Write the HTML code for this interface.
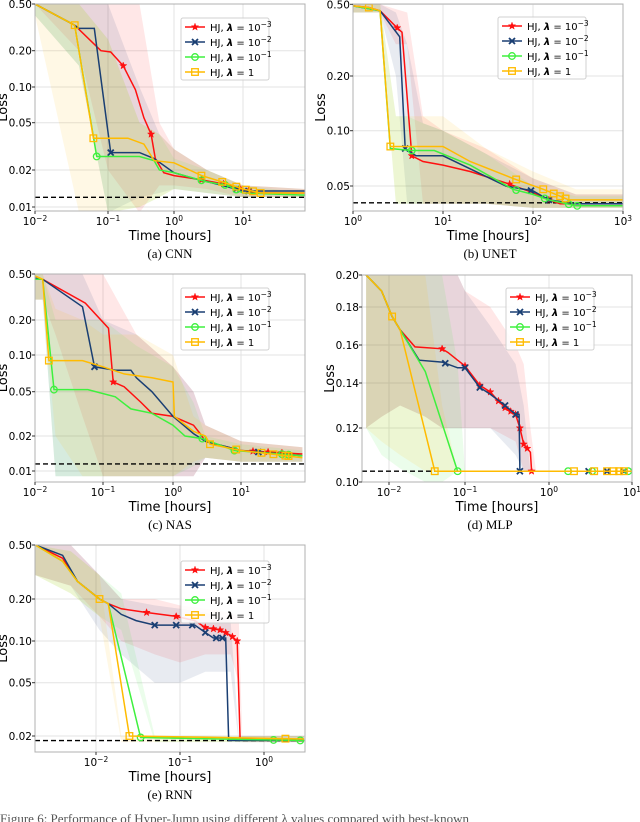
<!DOCTYPE html>
<html><head><meta charset="utf-8"><style>
body{margin:0;background:#fff}
svg{display:block}
</style></head><body>
<svg id="fig" width="640" height="822" viewBox="0 0 640 822" xmlns="http://www.w3.org/2000/svg" font-family="'DejaVu Sans','Liberation Sans',sans-serif"></svg>
<script>
// ---------- DATA ----------
const cnn_red=[[0.01,0.5],[0.035,0.33],[0.08,0.2],[0.11,0.195],[0.17,0.15],[0.26,0.095],[0.35,0.055],[0.45,0.04],[0.52,0.025],[0.7,0.019],[1,0.018],[2,0.017],[5,0.0155],[10,0.014],[15,0.013],[80,0.013]];
const cnn_blue=[[0.01,0.5],[0.035,0.33],[0.04,0.31],[0.065,0.31],[0.11,0.028],[0.3,0.028],[0.5,0.025],[1,0.019],[2,0.017],[5,0.015],[10,0.0135],[80,0.0135]];
const cnn_green=[[0.01,0.5],[0.035,0.33],[0.07,0.026],[0.3,0.026],[0.5,0.024],[0.6,0.02],[1,0.019],[3,0.016],[6,0.015],[10,0.013],[80,0.0125]];
const cnn_yellow=[[0.01,0.5],[0.035,0.33],[0.063,0.037],[0.2,0.037],[0.35,0.033],[0.5,0.024],[1,0.023],[2.5,0.018],[5,0.016],[10,0.014],[18,0.013],[80,0.013]];
const cnn_marks=[[0.17,0.45,2.5,5.2,9,12],[0.11,8,12],[0.07,2.5,5.5,8],[0.035,0.063,2.5,5,8,11,14,18]];
const cnn_bandT=[0.01,0.04,0.1,0.3,0.6,1,3,10,80];
const cnn_bandHi=[[0.5,0.5,0.5,0.5,0.05,0.03,0.02,0.015,0.014],[0.5,0.5,0.5,0.1,0.04,0.03,0.02,0.015,0.014],[0.5,0.5,0.25,0.05,0.04,0.025,0.02,0.015,0.013],[0.5,0.5,0.25,0.05,0.04,0.03,0.02,0.015,0.014]];
const cnn_bandLo=[[0.5,0.2,0.02,0.009,0.015,0.015,0.014,0.012,0.012],[0.4,0.15,0.009,0.012,0.013,0.014,0.013,0.012,0.012],[0.4,0.15,0.009,0.01,0.012,0.014,0.013,0.012,0.012],[0.4,0.009,0.009,0.01,0.012,0.014,0.013,0.012,0.012]];

const unet_red=[[1,0.49],[1.5,0.48],[2,0.46],[3.1,0.37],[3.5,0.35],[4.5,0.073],[6,0.068],[10,0.065],[20,0.06],[50,0.052],[100,0.046],[150,0.042],[200,0.04],[300,0.04],[1000,0.04]];
const unet_blue=[[1,0.49],[2,0.46],[3.3,0.33],[3.8,0.08],[5,0.073],[10,0.073],[20,0.062],[50,0.05],[100,0.047],[150,0.042],[300,0.04],[1000,0.04]];
const unet_green=[[1,0.49],[2,0.46],[2.6,0.08],[4.5,0.078],[8,0.078],[20,0.065],[60,0.048],[100,0.045],[150,0.042],[300,0.039],[1000,0.039]];
const unet_yellow=[[1,0.49],[1.5,0.48],[2,0.46],[2.6,0.082],[10,0.082],[20,0.068],[60,0.055],[130,0.048],[200,0.044],[250,0.042],[1000,0.042]];
const unet_marks=[[3.1,4.5,55,150],[3.8,95,150],[4.5,65,135,250,310],[1.5,2.6,65,130,170,200,230]];
const unet_bandT=[1,2,3,4,6,10,30,100,300,1000];
const unet_bandHi=[[0.5,0.5,0.47,0.45,0.12,0.1,0.08,0.055,0.045,0.045],[0.5,0.5,0.45,0.3,0.11,0.1,0.075,0.055,0.045,0.045],[0.5,0.5,0.12,0.12,0.11,0.1,0.075,0.05,0.044,0.044],[0.5,0.5,0.12,0.12,0.12,0.12,0.08,0.06,0.048,0.048]];
const unet_bandLo=[[0.45,0.45,0.3,0.3,0.04,0.04,0.04,0.038,0.038,0.038],[0.45,0.45,0.2,0.04,0.04,0.04,0.04,0.038,0.038,0.038],[0.45,0.45,0.04,0.04,0.04,0.04,0.04,0.038,0.038,0.038],[0.45,0.45,0.04,0.04,0.04,0.04,0.04,0.038,0.038,0.038]];

const nas_red=[[0.01,0.46],[0.013,0.45],[0.055,0.28],[0.12,0.17],[0.14,0.06],[0.2,0.055],[0.35,0.04],[0.5,0.032],[1,0.03],[2,0.025],[2.5,0.021],[3,0.018],[10,0.015],[80,0.014]];
const nas_blue=[[0.01,0.46],[0.013,0.45],[0.05,0.26],[0.075,0.08],[0.15,0.075],[0.25,0.075],[0.3,0.065],[0.5,0.05],[1,0.03],[2,0.021],[3,0.018],[10,0.015],[80,0.0135]];
const nas_green=[[0.01,0.45],[0.013,0.45],[0.019,0.052],[0.06,0.052],[0.15,0.045],[0.25,0.035],[0.5,0.032],[1,0.025],[1.5,0.02],[2.7,0.019],[8,0.015],[80,0.0135]];
const nas_yellow=[[0.01,0.48],[0.013,0.45],[0.016,0.09],[0.05,0.09],[0.1,0.08],[0.2,0.07],[0.5,0.065],[1,0.06],[1.05,0.03],[2,0.022],[3,0.02],[3.5,0.017],[10,0.015],[80,0.013]];
const nas_marks=[[0.14,15,25,40],[0.075,18],[0.019,2.7,8,40,50],[0.016,3.5,8.5,20,30,45,50]];
const nas_bandT=[0.01,0.013,0.02,0.05,0.1,0.3,1,2,3,10,80];
const nas_bandHi=[[0.5,0.5,0.5,0.5,0.5,0.15,0.08,0.05,0.025,0.018,0.016],[0.5,0.5,0.5,0.5,0.2,0.15,0.08,0.05,0.025,0.018,0.016],[0.5,0.5,0.2,0.2,0.2,0.12,0.08,0.04,0.02,0.017,0.015],[0.5,0.5,0.25,0.2,0.15,0.15,0.1,0.03,0.025,0.018,0.016]];
const nas_bandLo=[[0.3,0.3,0.15,0.03,0.009,0.009,0.009,0.009,0.013,0.012,0.012],[0.3,0.3,0.009,0.009,0.009,0.009,0.009,0.009,0.013,0.012,0.012],[0.3,0.3,0.009,0.009,0.009,0.009,0.009,0.011,0.013,0.012,0.012],[0.3,0.3,0.02,0.009,0.009,0.009,0.009,0.012,0.013,0.012,0.012]];

const mlp_red=[[0.005,0.2],[0.008,0.19],[0.011,0.175],[0.014,0.168],[0.022,0.159],[0.05,0.158],[0.06,0.156],[0.08,0.152],[0.1,0.149],[0.15,0.139],[0.2,0.136],[0.25,0.132],[0.3,0.129],[0.4,0.126],[0.45,0.12],[0.5,0.114],[0.6,0.111],[0.62,0.104],[10,0.104]];
const mlp_blue=[[0.005,0.2],[0.008,0.19],[0.011,0.175],[0.014,0.168],[0.025,0.152],[0.05,0.151],[0.08,0.148],[0.1,0.148],[0.15,0.138],[0.2,0.135],[0.3,0.13],[0.4,0.126],[0.44,0.126],[0.45,0.104],[10,0.104]];
const mlp_green=[[0.005,0.2],[0.008,0.19],[0.011,0.175],[0.014,0.168],[0.03,0.146],[0.08,0.104],[10,0.104]];
const mlp_yellow=[[0.005,0.2],[0.008,0.19],[0.011,0.175],[0.014,0.168],[0.04,0.104],[10,0.104]];
const mlp_marks=[[0.05,0.1,0.15,0.2,0.25,0.3,0.35,0.4,0.45,0.5,0.55,0.62],[0.055,0.1,0.15,0.3,0.4,0.45,3,5,8],[0.08,1.7,3.3,9],[0.011,0.04,2,3.5,5,6,7,8]];
const mlp_bandT=[0.005,0.008,0.014,0.03,0.05,0.08,0.1,0.2,0.4,0.5,0.6,0.7,10];
const mlp_bandHi=[[0.2,0.2,0.2,0.2,0.2,0.2,0.19,0.18,0.16,0.15,0.12,0.104,0.104],[0.2,0.2,0.2,0.2,0.2,0.2,0.19,0.17,0.15,0.13,0.104,0.104,0.104],[0.2,0.2,0.2,0.2,0.2,0.15,0.104,0.104,0.104,0.104,0.104,0.104,0.104],[0.2,0.2,0.2,0.2,0.13,0.104,0.104,0.104,0.104,0.104,0.104,0.104,0.104]];
const mlp_bandLo=[[0.12,0.125,0.13,0.125,0.12,0.12,0.12,0.12,0.115,0.104,0.104,0.104,0.104],[0.12,0.125,0.13,0.125,0.12,0.12,0.12,0.12,0.11,0.104,0.104,0.104,0.104],[0.12,0.11,0.105,0.1,0.1,0.104,0.104,0.104,0.104,0.104,0.104,0.104,0.104],[0.12,0.115,0.11,0.104,0.104,0.104,0.104,0.104,0.104,0.104,0.104,0.104,0.104]];

const rnn_red=[[0.0019,0.5],[0.004,0.4],[0.006,0.27],[0.011,0.2],[0.014,0.185],[0.02,0.17],[0.04,0.16],[0.09,0.15],[0.15,0.14],[0.2,0.125],[0.3,0.12],[0.4,0.11],[0.48,0.1],[0.52,0.019],[3,0.0185]];
const rnn_blue=[[0.0019,0.5],[0.004,0.42],[0.006,0.27],[0.011,0.2],[0.014,0.185],[0.02,0.155],[0.03,0.14],[0.05,0.13],[0.15,0.13],[0.2,0.115],[0.25,0.105],[0.35,0.105],[0.38,0.0185],[3,0.0185]];
const rnn_green=[[0.0019,0.5],[0.004,0.38],[0.006,0.27],[0.011,0.2],[0.014,0.185],[0.034,0.0195],[3,0.0185]];
const rnn_yellow=[[0.0019,0.5],[0.004,0.38],[0.006,0.27],[0.011,0.2],[0.014,0.185],[0.025,0.02],[3,0.019]];
const rnn_marks=[[0.04,0.09,0.2,0.25,0.3,0.35,0.42,0.48],[0.05,0.09,0.14,0.2,0.27,0.32],[0.034,1.3,2.7],[0.011,0.025,1.8]];
const rnn_bandT=[0.0019,0.005,0.011,0.02,0.05,0.1,0.2,0.4,0.5,0.55,3];
const rnn_bandHi=[[0.5,0.5,0.3,0.2,0.2,0.18,0.17,0.16,0.15,0.02,0.02],[0.5,0.5,0.3,0.2,0.18,0.17,0.16,0.14,0.02,0.02,0.02],[0.5,0.45,0.3,0.22,0.02,0.02,0.02,0.02,0.02,0.02,0.02],[0.5,0.45,0.3,0.02,0.02,0.02,0.02,0.02,0.02,0.02,0.02]];
const rnn_bandLo=[[0.3,0.25,0.15,0.1,0.08,0.07,0.08,0.08,0.05,0.018,0.018],[0.3,0.25,0.12,0.08,0.05,0.05,0.06,0.06,0.018,0.018,0.018],[0.3,0.22,0.15,0.12,0.018,0.018,0.018,0.018,0.018,0.018,0.018],[0.3,0.22,0.15,0.018,0.018,0.018,0.018,0.018,0.018,0.018,0.018]];

const lossTicks=[0.5,0.2,0.1,0.05,0.02,0.01];
const colors=['#ff1010','#1a3f73','#3ef03e','#ffbb00'];
const markers=['star','x','circle','square'];
const lamLabels=['10','10','10',''];
const lamExps=['−3','−2','−1',''];

// ---------- RENDER ----------
const NS='http://www.w3.org/2000/svg';
const svg=document.getElementById('fig');
function mk(tag,attrs,parent){const e=document.createElementNS(NS,tag);for(const k in attrs)e.setAttribute(k,attrs[k]);(parent||svg).appendChild(e);return e;}
function pw(vals,pix,islog){
  const f=v=>islog?Math.log10(v):v;
  const fv=vals.map(f);
  return v=>{const x=f(v);let i=0;
    if(fv[0]>fv[1]){ while(i<fv.length-2 && x<fv[i+1]) i++; }
    else { while(i<fv.length-2 && x>fv[i+1]) i++; }
    return pix[i]+(x-fv[i])/(fv[i+1]-fv[i])*(pix[i+1]-pix[i]);};
}
function interpY(series,t){const lt=Math.log10(t);
  for(let i=0;i<series.length-1;i++){const a=Math.log10(series[i][0]),b=Math.log10(series[i+1][0]);
    if(lt>=a&&lt<=b){return series[i][1]+(lt-a)/(b-a)*(series[i+1][1]-series[i][1]);}}
  return series[series.length-1][1];}
function marker(g,type,x,y,c){
  if(type==='star'){let p=[];for(let i=0;i<10;i++){const r=i%2?1.6:3.8,a=-Math.PI/2+i*Math.PI/5;p.push((x+r*Math.cos(a)).toFixed(1)+','+(y+r*Math.sin(a)).toFixed(1));}
    mk('polygon',{points:p.join(' '),fill:c,stroke:c,'stroke-width':0.5},g);}
  else if(type==='x'){mk('path',{d:`M${x-3},${y-3}L${x+3},${y+3}M${x-3},${y+3}L${x+3},${y-3}`,stroke:c,'stroke-width':1.8},g);}
  else if(type==='circle'){mk('circle',{cx:x,cy:y,r:3.3,fill:'none',stroke:c,'stroke-width':1.3},g);}
  else {mk('rect',{x:x-3.3,y:y-3.3,width:6.6,height:6.6,fill:'none',stroke:c,'stroke-width':1.3},g);}
}
function sup(el,base,exp){el.appendChild(document.createTextNode(base));const t=mk('tspan',{dy:-4,'font-size':'7.5'},el);t.textContent=exp;}

function panel(p){
  const g=mk('g',{});
  
  
  const X=pw(p.xt,p.xp,true), Y=pw(p.yt,p.yp,p.ylog);
  const cid='c'+p.name;
  const cp=mk('clipPath',{id:cid},g);mk('rect',{x:p.x0,y:p.y0,width:p.x1-p.x0,height:p.y1-p.y0},cp);
  p.yticks.forEach(v=>{const y=Y(v);mk('line',{x1:p.x0,x2:p.x1,y1:y,y2:y,stroke:'#e3e3e3','stroke-width':1},g);});
  p.xticks.forEach(v=>{const x=X(v);mk('line',{x1:x,x2:x,y1:p.y0,y2:p.y1,stroke:'#e3e3e3','stroke-width':1},g);});
  const pl=mk('g',{'clip-path':`url(#${cid})`},g);
  for(let s=0;s<4;s++){const hi=p.bandHi[s],lo=p.bandLo[s];let d='';
    p.bandT.forEach((t,i)=>{d+=(i?'L':'M')+X(t).toFixed(1)+','+Y(hi[i]).toFixed(1);});
    for(let i=p.bandT.length-1;i>=0;i--)d+='L'+X(p.bandT[i]).toFixed(1)+','+Y(lo[i]).toFixed(1);
    const b=mk('path',{d:d+'Z',fill:colors[s],'fill-opacity':0.1},pl);
    
    }
  mk('line',{x1:p.x0,x2:p.x1,y1:Y(p.best),y2:Y(p.best),stroke:'#000','stroke-width':1.4,'stroke-dasharray':'5,3'},pl);
  for(let s=0;s<4;s++){const ser=p.series[s];
    const l=mk('path',{d:ser.map((q,i)=>(i?'L':'M')+X(q[0]).toFixed(1)+','+Y(q[1]).toFixed(1)).join(''),fill:'none',stroke:colors[s],'stroke-width':1.5},pl);
    
    
    p.marks[s].forEach(t=>marker(pl,markers[s],X(t),Y(interpY(ser,t)),colors[s]));}
  mk('rect',{x:p.x0,y:p.y0,width:p.x1-p.x0,height:p.y1-p.y0,fill:'none',stroke:'#b0b0b0','stroke-width':1},g);
  p.yticks.forEach(v=>{const t=mk('text',{x:p.x0-3,y:Y(v)+4,'text-anchor':'end','font-size':'10.5','fill':'#000'},g);t.textContent=p.yfmt(v);
    mk('line',{x1:p.x0-3,x2:p.x0,y1:Y(v),y2:Y(v),stroke:'#333'},g);});
  p.xticks.forEach(v=>{const e=Math.round(Math.log10(v));const t=mk('text',{x:X(v),y:p.y1+14,'text-anchor':'middle','font-size':'10.5'},g);sup(t,'10',e<0?'−'+(-e):String(e));
    mk('line',{x1:X(v),x2:X(v),y1:p.y1,y2:p.y1+3,stroke:'#333'},g);});
  const xl=mk('text',{x:(p.x0+p.x1)/2,y:p.y1+29,'text-anchor':'middle','font-size':'13'},g);xl.textContent='Time [hours]';
  
  const yl=mk('text',{x:p.x0-28,y:(p.y0+p.y1)/2,'text-anchor':'middle','font-size':'13',transform:`rotate(-90 ${p.x0-28} ${(p.y0+p.y1)/2})`},g);yl.textContent='Loss';
  
  const cap=mk('text',{x:p.capx,y:p.y1+47,'text-anchor':'middle','font-size':'13','font-family':"'Liberation Serif',serif"},g);cap.textContent=p.caption;
  
  const lg=mk('g',{},g);
  
  
  mk('rect',{x:p.lx,y:p.ly,width:88,height:62,rx:2,fill:'#fff','fill-opacity':0.85,stroke:'#d0d0d0'},lg);
  for(let s=0;s<4;s++){const yy=p.ly+9+s*15;
    const ent=mk('g',{},lg);
    
    
    mk('line',{x1:p.lx+4,x2:p.lx+24,y1:yy,y2:yy,stroke:colors[s],'stroke-width':1.5},ent);
    marker(ent,markers[s],p.lx+14,yy,colors[s]);
    const t=mk('text',{x:p.lx+29,y:yy+3.8,'font-size':'10'},ent);
    t.appendChild(document.createTextNode('HJ, '));
    const lam=mk('tspan',{'font-weight':'bold','font-style':'italic'},t);lam.textContent='λ';
    t.appendChild(document.createTextNode(' = '));
    if(lamExps[s]){sup(t,lamLabels[s],lamExps[s]);} else t.appendChild(document.createTextNode('1'));
  }
}
const logfmt=v=>v.toFixed(2);
panel({name:'cnn',caption:'(a) CNN',capx:170,x0:35,x1:305,y0:4,y1:211,xt:[0.01,0.1,1,10],xp:[35,108,174,243],xticks:[0.01,0.1,1,10],
  yt:lossTicks,yp:[4,50.7,87,122.7,170,207],ylog:true,yticks:lossTicks,yfmt:logfmt,best:0.012,
  series:[cnn_red,cnn_blue,cnn_green,cnn_yellow],marks:cnn_marks,bandT:cnn_bandT,bandHi:cnn_bandHi,bandLo:cnn_bandLo,lx:181,ly:18});
panel({name:'unet',caption:'(b) UNET',capx:490,x0:353,x1:623,y0:4,y1:211,xt:[1,10,100,1000],xp:[353,443,533,623],xticks:[1,10,100,1000],
  yt:[0.5,0.2,0.1,0.05],yp:[4.3,76,130.7,186],ylog:true,yticks:[0.5,0.2,0.1,0.05],yfmt:logfmt,best:0.0405,
  series:[unet_red,unet_blue,unet_green,unet_yellow],marks:unet_marks,bandT:unet_bandT,bandHi:unet_bandHi,bandLo:unet_bandLo,lx:498,ly:17});
panel({name:'nas',caption:'(c) NAS',capx:170,x0:35,x1:305,y0:274,y1:482,xt:[0.01,0.1,1,10],xp:[35,103,173,241],xticks:[0.01,0.1,1,10],
  yt:lossTicks,yp:[274,320,355,391.7,436,471],ylog:true,yticks:lossTicks,yfmt:logfmt,best:0.0115,
  series:[nas_red,nas_blue,nas_green,nas_yellow],marks:nas_marks,bandT:nas_bandT,bandHi:nas_bandHi,bandLo:nas_bandLo,lx:181,ly:288});
panel({name:'mlp',caption:'(d) MLP',capx:490,x0:362,x1:632,y0:275,y1:482,xt:[0.01,0.1,1,10],xp:[389,465,549,632],xticks:[0.01,0.1,1,10],
  yt:[0.10,0.12,0.14,0.16,0.18,0.20],yp:[482,428,383,345,307,275],ylog:false,yticks:[0.10,0.12,0.14,0.16,0.18,0.20],yfmt:logfmt,best:0.104,
  series:[mlp_red,mlp_blue,mlp_green,mlp_yellow],marks:mlp_marks,bandT:mlp_bandT,bandHi:mlp_bandHi,bandLo:mlp_bandLo,lx:506,ly:288});
panel({name:'rnn',caption:'(e) RNN',capx:170,x0:35,x1:305,y0:545,y1:752,xt:[0.01,0.1,1],xp:[96,180,264],xticks:[0.01,0.1,1],
  yt:[0.5,0.2,0.1,0.05,0.02],yp:[545,599,641,682.7,736],ylog:true,yticks:[0.5,0.2,0.1,0.05,0.02],yfmt:logfmt,best:0.0185,
  series:[rnn_red,rnn_blue,rnn_green,rnn_yellow],marks:rnn_marks,bandT:rnn_bandT,bandHi:rnn_bandHi,bandLo:rnn_bandLo,lx:181,ly:561});
const fc=mk('text',{x:0,y:823,'font-size':'13','font-family':"'Liberation Serif',serif",fill:'#555'});
fc.textContent='Figure 6: Performance of Hyper-Jump using different λ values compared with best-known';


</script>
</body></html>
